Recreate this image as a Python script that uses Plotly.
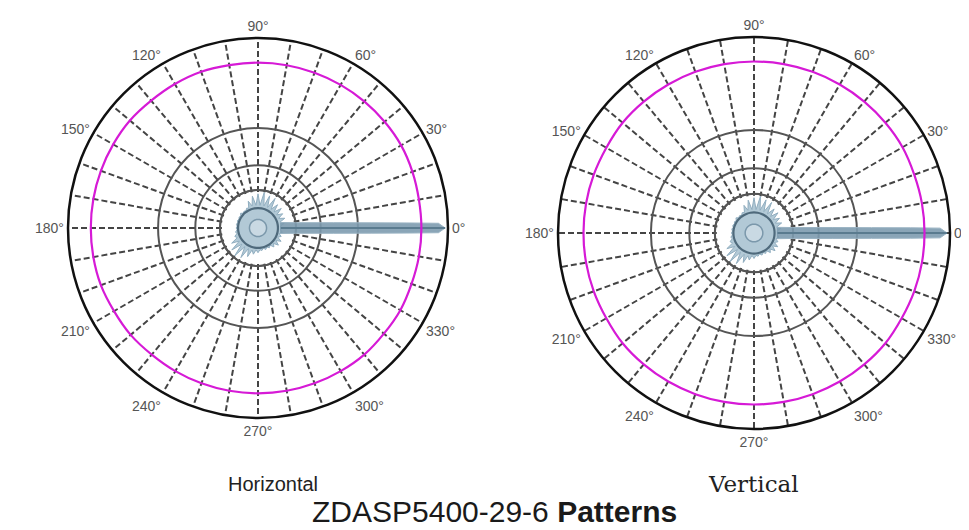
import plotly.graph_objects as go

# ---------------- data ----------------
angle_ticks = list(range(0, 360, 10))
angle_labels = ["0°", "30°", "60°", "90°", "120°", "150°", "180°", "210°", "240°", "270°", "300°", "330°"]
ring_levels = [0.2, 0.33, 0.526]          # grey grid circles (fraction of outer radius)

circle_theta = list(range(0, 361, 10))
# magenta (omni) pattern
horiz_omni_r = [0.86, 0.86, 0.865, 0.87, 0.87, 0.87, 0.87, 0.87, 0.87, 0.87, 0.87, 0.875,
                0.875, 0.875, 0.88, 0.88, 0.88, 0.88, 0.88, 0.88, 0.88, 0.875, 0.875, 0.87,
                0.87, 0.87, 0.87, 0.87, 0.87, 0.87, 0.87, 0.87, 0.865, 0.865, 0.86, 0.86, 0.86]
vert_omni_r = [0.87, 0.87, 0.87, 0.875, 0.875, 0.875, 0.875, 0.875, 0.875, 0.875, 0.875, 0.875,
               0.875, 0.875, 0.875, 0.87, 0.87, 0.87, 0.87, 0.87, 0.87, 0.87, 0.875, 0.875,
               0.875, 0.875, 0.875, 0.875, 0.875, 0.875, 0.875, 0.875, 0.875, 0.87, 0.87, 0.87, 0.87]

# narrow main beam toward 0°
beam_theta = [14, 8, 4, 2.6, 1.9, 1.5, 0, -1.5, -1.9, -2.6, -4, -8, -14]
beam_r = [0.12, 0.2, 0.4, 0.6, 0.8, 0.95, 0.985, 0.95, 0.8, 0.6, 0.4, 0.2, 0.12]

# spiky low-level blob near the centre
blob_theta = list(range(0, 365, 5))
blob_r = [0.12, 0.12, 0.14, 0.12, 0.15, 0.12, 0.15, 0.12, 0.16, 0.12, 0.16, 0.12, 0.18, 0.12,
          0.18, 0.12, 0.19, 0.12, 0.18, 0.12, 0.17, 0.12, 0.15, 0.115, 0.12, 0.11, 0.115,
          0.11, 0.12, 0.11, 0.115, 0.11, 0.115, 0.11, 0.115, 0.11, 0.115, 0.11, 0.12, 0.115,
          0.13, 0.12, 0.16, 0.12, 0.18, 0.12, 0.19, 0.12, 0.18, 0.12, 0.16, 0.12, 0.14,
          0.115, 0.13, 0.115, 0.12, 0.11, 0.12, 0.11, 0.12, 0.11, 0.13, 0.115, 0.14, 0.115,
          0.14, 0.115, 0.13, 0.115, 0.13, 0.12, 0.12]

inner_ring_r = 0.105
core_ring_r = 0.045
white_core_r = 0.19

# ---------------- figure ----------------
fig = go.Figure()

def add_pattern(sub, omni_r):
    # white core hiding the dashed spokes
    fig.add_trace(go.Scatterpolar(r=[white_core_r] * len(circle_theta), theta=circle_theta,
                                  mode="lines", fill="toself", fillcolor="white",
                                  line=dict(color="white", width=0), subplot=sub,
                                  line_shape="spline"))
    fig.add_trace(go.Scatterpolar(r=[ring_levels[0]] * len(circle_theta), theta=circle_theta,
                                  mode="lines", line=dict(color="#555555", width=1.8),
                                  subplot=sub, line_shape="spline"))
    # blob
    fig.add_trace(go.Scatterpolar(r=blob_r, theta=blob_theta, mode="lines", fill="toself",
                                  fillcolor="rgba(170,195,210,0.9)",
                                  line=dict(color="#90adbf", width=1), subplot=sub))
    fig.add_trace(go.Scatterpolar(r=[inner_ring_r] * len(circle_theta), theta=circle_theta,
                                  mode="lines", line=dict(color="#4f6a7c", width=2.2),
                                  subplot=sub, line_shape="spline"))
    fig.add_trace(go.Scatterpolar(r=[core_ring_r] * len(circle_theta), theta=circle_theta,
                                  mode="lines", fill="toself", fillcolor="#c9d9e3",
                                  line=dict(color="#7b98ab", width=1.5),
                                  subplot=sub, line_shape="spline"))
    # beam
    fig.add_trace(go.Scatterpolar(r=beam_r, theta=beam_theta, mode="lines", fill="toself",
                                  fillcolor="rgba(125,155,175,0.9)",
                                  line=dict(color="#9ab3c3", width=1), subplot=sub))
    fig.add_trace(go.Scatterpolar(r=[beam_r[0], beam_r[6]], theta=[0, 0], mode="lines",
                                  line=dict(color="#5a7b8f", width=2), subplot=sub))
    # magenta omni pattern
    fig.add_trace(go.Scatterpolar(r=omni_r, theta=circle_theta, mode="lines",
                                  line=dict(color="#d61ad6", width=2.2),
                                  subplot=sub, line_shape="spline"))

add_pattern("polar", horiz_omni_r)
add_pattern("polar2", vert_omni_r)

ticktext = [angle_labels[a // 30] if a % 30 == 0 else "" for a in angle_ticks]

def polar_layout(xd, yd):
    return dict(
        domain=dict(x=xd, y=yd),
        bgcolor="white",
        radialaxis=dict(range=[0, 1], showline=False, showticklabels=False, ticks="",
                        tickmode="array", tickvals=ring_levels,
                        gridcolor="#555555", gridwidth=1.8),
        angularaxis=dict(tickmode="array", tickvals=angle_ticks, ticktext=ticktext,
                         ticks="", showline=True, linecolor="#111111", linewidth=2.5,
                         gridcolor="#444444", gridwidth=1.5, griddash="6px,3px",
                         rotation=0, direction="counterclockwise",
                         tickfont=dict(family="Liberation Sans", size=14, color="#555555")),
    )

W, H = 969, 530
fig.update_layout(
    width=W, height=H,
    margin=dict(l=0, r=0, t=0, b=0),
    paper_bgcolor="white",
    showlegend=False,
    hovermode=False,
    polar=polar_layout([60 / W, 440 / W], [1 - 410 / H, 1 - 30 / H]),
    polar2=polar_layout([550 / W, 942 / W], [1 - 421 / H, 1 - 29 / H]),
    annotations=[
        dict(text="Horizontal", x=265 / W, y=1 - 476 / H, xref="paper", yref="paper",
             showarrow=False, xanchor="center", yanchor="middle",
             font=dict(family="Liberation Sans", size=20, color="#222222")),
        dict(text="Vertical", x=745 / W, y=1 - 476 / H, xref="paper", yref="paper",
             showarrow=False, xanchor="center", yanchor="middle",
             font=dict(family="DejaVu Serif", size=23, color="#222222")),
        dict(text="ZDASP5400-29-6 <b>Patterns</b>", x=486 / W, y=1 - 503 / H,
             xref="paper", yref="paper", showarrow=False, xanchor="center",
             yanchor="middle",
             font=dict(family="Liberation Sans", size=30, color="#1a1a1a")),
    ],
)

fig.write_html("out.html")
